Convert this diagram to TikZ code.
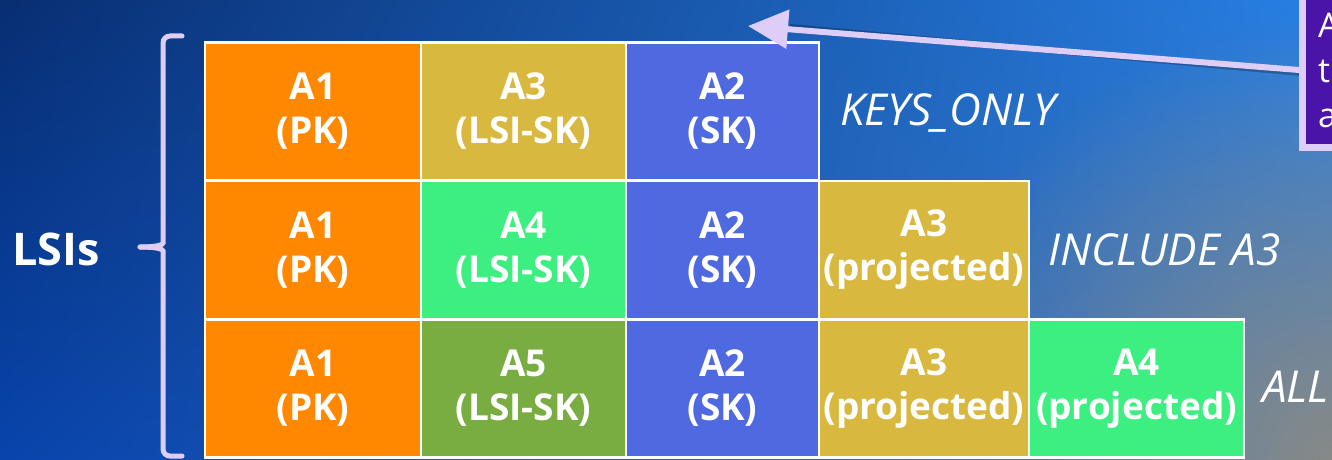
\documentclass[tikz,border=0pt]{standalone}
\usepackage{fontspec}
\setmainfont{Open Sans}
\usetikzlibrary{arrows.meta}
\usetikzlibrary{shadows}
\usetikzlibrary{shadings}
\usetikzlibrary{fadings}

\definecolor{pkorange}{HTML}{FF8800}
\definecolor{skblue}{HTML}{4F69E1}
\definecolor{lsigold}{HTML}{D9B840}
\definecolor{lsigreen}{HTML}{3CEF80}
\definecolor{lsiolive}{HTML}{79AD42}
\definecolor{lavender}{HTML}{DDCDF7}
\definecolor{notepurple}{HTML}{4A14A8}
\definecolor{bgnavy}{RGB}{8,46,114}
\definecolor{bgsky}{RGB}{40,128,228}
\definecolor{bgdeep}{RGB}{8,68,172}
\definecolor{bgsteel}{RGB}{64,124,196}
\definecolor{bggrey}{RGB}{135,138,135}

\tikzfading[name=cornerfade, inner color=transparent!0, outer color=transparent!100]

\tikzset{
  cell/.style={draw=white, line width=2.5pt, text=white, align=center, inner sep=0pt,
    minimum height=138pt, font=\fontsize{37}{44}\selectfont\bfseries},
  colA/.style={minimum width=216pt},
  colB/.style={minimum width=205pt},
  colC/.style={minimum width=193pt},
  colD/.style={minimum width=210pt},
  colE/.style={minimum width=215pt},
  projlabel/.style={text=white, anchor=base west, inner sep=0pt,
    font=\fontsize{44}{52}\selectfont\itshape},
  brace/.style={draw=lavender, line width=5pt, rounded corners=7pt, line cap=round},
  pointer/.style={draw=lavender, line width=6pt, -{Triangle[length=40pt, width=38pt]}},
  note/.style={draw=lavender, line width=7pt, fill=notepurple, inner sep=0pt,
    drop shadow={opacity=.4, shadow xshift=2pt, shadow yshift=-3pt}},
}

\begin{document}
\begin{tikzpicture}[x=1pt, y=-1pt]
\useasboundingbox (0,0) rectangle (1332,460);
\clip (0,0) rectangle (1332,460);
% background
\shade[upper left=bgnavy, upper right=bgsky, lower left=bgdeep, lower right=bgsteel]
  (0,0) rectangle (1332,460);
\fill[bggrey, path fading=cornerfade] (1332,460) circle (440);

% KEYS_ONLY
\node[cell, colA, fill=pkorange] (k1) at (313,111.5) {A1\\(PK)};
\node[cell, colB, fill=lsigold] (k2) at (523.5,111.5) {A3\\(LSI-SK)};
\node[cell, colC, fill=skblue] (k3) at (722.5,111.5) {A2\\(SK)};
\node[projlabel] (keysonly) at (840,125) {KEYS\_ONLY};

% INCLUDE A3
\node[cell, colA, fill=pkorange] (i1) at (313,250) {A1\\(PK)};
\node[cell, colB, fill=lsigreen] (i2) at (523.5,250) {A4\\(LSI-SK)};
\node[cell, colC, fill=skblue] (i3) at (722.5,250) {A2\\(SK)};
\node[cell, colD, fill=lsigold] (i4) at (924,250) {A3\\(projected)};
\node[projlabel] (include) at (1048,265) {INCLUDE A3};

% ALL
\node[cell, colA, fill=pkorange] (a1) at (313,388.5) {A1\\(PK)};
\node[cell, colB, fill=lsiolive] (a2) at (523.5,388.5) {A5\\(LSI-SK)};
\node[cell, colC, fill=skblue] (a3) at (722.5,388.5) {A2\\(SK)};
\node[cell, colD, fill=lsigold] (a4) at (924,388.5) {A3\\(projected)};
\node[cell, colE, fill=lsigreen] (a5) at (1136.5,388.5) {A4\\(projected)};
\node[projlabel] (all) at (1262,402) {ALL};

% brace
\node[text=white, anchor=base west, inner sep=0pt, font=\fontsize{45}{54}\selectfont\bfseries] (lsis) at (12,265) {LSIs};
\draw[brace] (182,36) -| (163,236) .. controls (163,245) and (156,247) .. (140,247);
\draw[brace] (140,247) .. controls (156,247) and (163,249) .. (163,258) |- (182,456);

% callout
\node[note, minimum width=120pt, minimum height=220pt, anchor=south west] (note) at (1299,151) {};
\coordinate (tip) at (748,26);
\draw[line width=6pt, black, opacity=.25] ([xshift=2pt, yshift=78pt]note.south west) -- ([xshift=42pt, yshift=-1pt]tip);
\draw[pointer] ([yshift=81pt]note.south west) -- (tip);
\node[note, minimum width=120pt, minimum height=220pt, anchor=south west] at (1299,151) {};
\node[text=white, anchor=north west, align=left, inner sep=0pt, font=\fontsize{34}{45}\selectfont] (notetxt) at (1318,13) {A\\t\\a};
\end{tikzpicture}
\end{document}
